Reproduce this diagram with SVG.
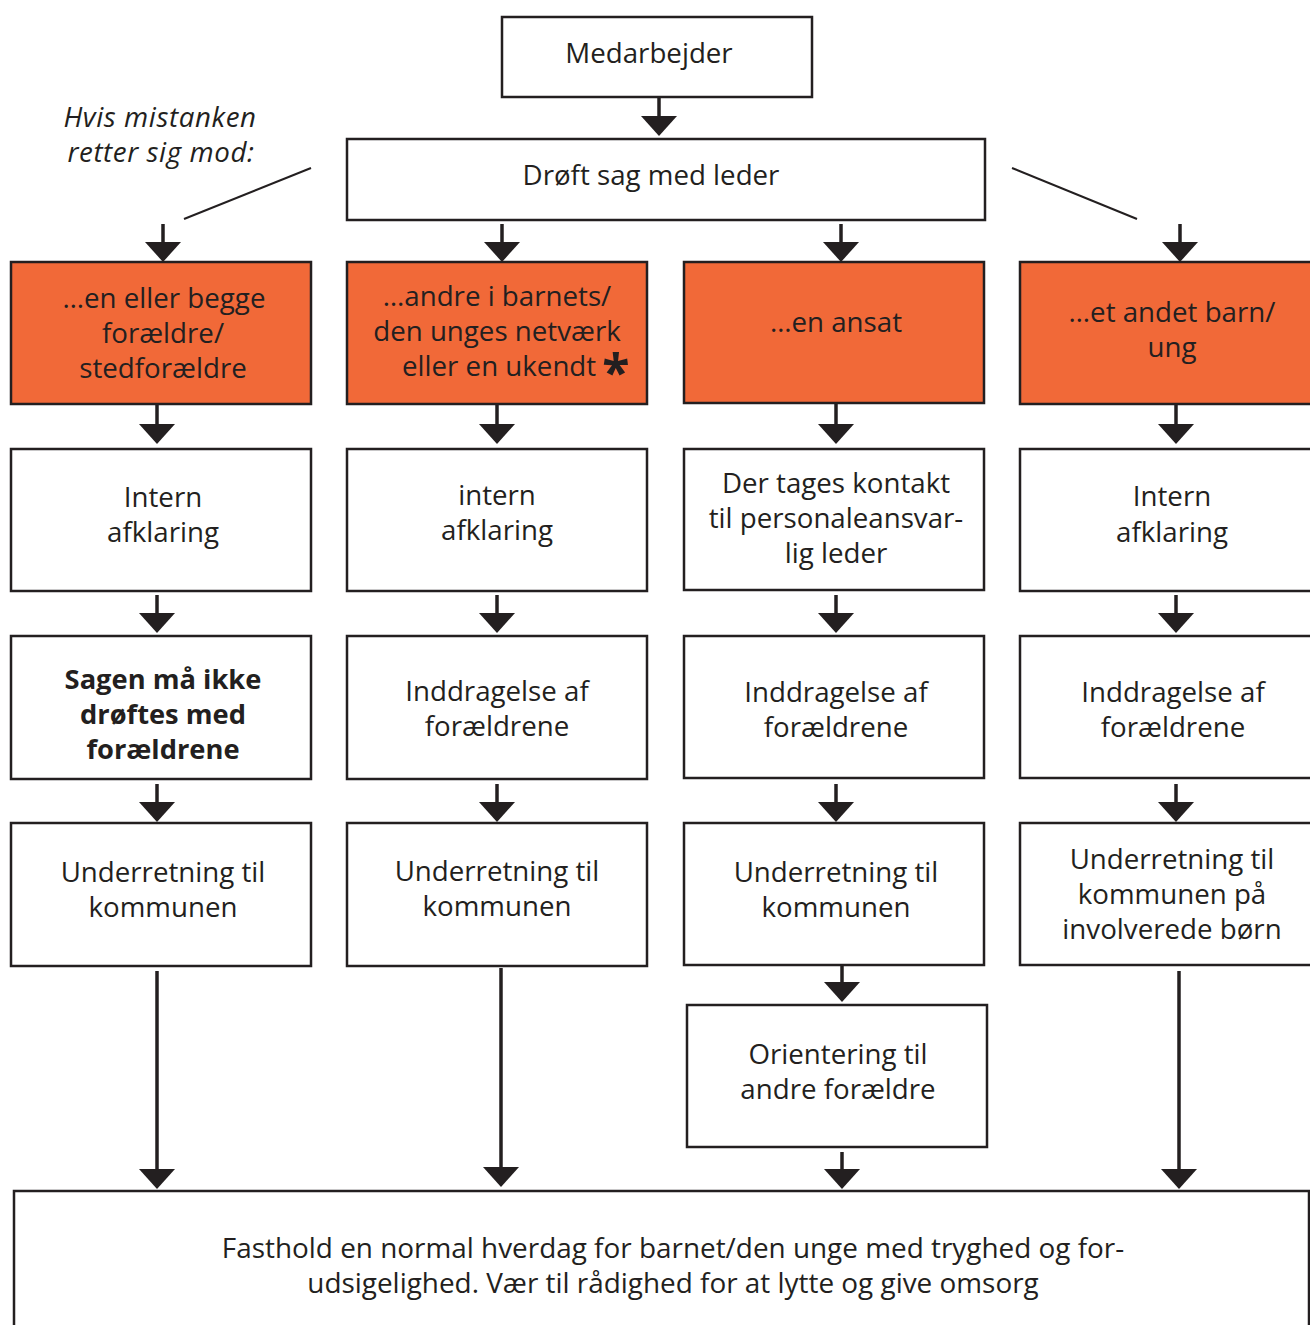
<svg xmlns="http://www.w3.org/2000/svg" width="1310" height="1325" viewBox="0 0 1310 1325">
<style>
  .box { fill: #ffffff; stroke: #231f20; stroke-width: 2.5; }
  .hot { fill: #f16938; stroke: #231f20; stroke-width: 2.5; }
  .t { font-family: "Open Sans", "Noto Sans", sans-serif; font-size: 27.7px; fill: #231f20; text-anchor: middle; }
  .b { font-weight: 700; font-size: 27.3px; }
  .i { font-style: italic; font-size: 27.7px; letter-spacing: 0.6px; }
  .big { font-size: 27.9px; }
  .st { text-anchor: start; }
  .ast { font-weight: 700; font-size: 50px; }
  .conn line { stroke: #231f20; stroke-width: 3.5; }
  .conn line.arr { marker-end: url(#ah); }
  .conn line.diag { stroke-width: 2; }
</style>
<defs>
  <marker id="ah" viewBox="0 0 20 36" refX="6" refY="18" markerWidth="20" markerHeight="36" markerUnits="userSpaceOnUse" orient="auto">
    <path d="M0,0 L20,18 L0,36 Z" fill="#231f20"/>
  </marker>
</defs>
<rect width="1310" height="1325" fill="#ffffff"/>

<g id="note">
  <text class="t i" x="160" y="127">Hvis mistanken</text>
  <text class="t i" x="161" y="162">retter sig mod:</text>
</g>

<g id="medarbejder">
  <rect class="box" x="502" y="17" width="310" height="80"/>
  <text class="t" x="649" y="63">Medarbejder</text>
</g>
<g id="droeft">
  <rect class="box" x="347" y="139" width="638" height="81"/>
  <text class="t" x="651" y="185">Drøft sag med leder</text>
</g>

<g id="o1">
  <rect class="hot" x="11" y="262" width="300" height="142"/>
  <text class="t" x="164" y="308">…en eller begge</text>
  <text class="t" x="163" y="343">forældre/</text>
  <text class="t" x="163" y="378">stedforældre</text>
</g>
<g id="o2">
  <rect class="hot" x="347" y="262" width="300" height="142"/>
  <text class="t" x="497" y="306">…andre i barnets/</text>
  <text class="t" x="497" y="341">den unges netværk</text>
  <text class="t st" x="402" y="376">eller en ukendt <tspan class="ast" dx="-1" dy="14">*</tspan></text>
</g>
<g id="o3">
  <rect class="hot" x="684" y="262" width="300" height="141"/>
  <text class="t" x="836" y="332">…en ansat</text>
</g>
<g id="o4">
  <rect class="hot" x="1020" y="262" width="300" height="142"/>
  <text class="t" x="1172" y="322">…et andet barn/</text>
  <text class="t" x="1172" y="357">ung</text>
</g>

<g id="r2c1">
  <rect class="box" x="11" y="449" width="300" height="142"/>
  <text class="t" x="163" y="507">Intern</text>
  <text class="t" x="163" y="542">afklaring</text>
</g>
<g id="r2c2">
  <rect class="box" x="347" y="449" width="300" height="142"/>
  <text class="t" x="497" y="505">intern</text>
  <text class="t" x="497" y="540">afklaring</text>
</g>
<g id="r2c3">
  <rect class="box" x="684" y="449" width="300" height="141"/>
  <text class="t" x="836" y="493">Der tages kontakt</text>
  <text class="t" x="836" y="528">til personaleansvar-</text>
  <text class="t" x="836" y="563">lig leder</text>
</g>
<g id="r2c4">
  <rect class="box" x="1020" y="449" width="300" height="142"/>
  <text class="t" x="1172" y="506">Intern</text>
  <text class="t" x="1172" y="542">afklaring</text>
</g>

<g id="r3c1">
  <rect class="box" x="11" y="636" width="300" height="143"/>
  <text class="t b" x="163" y="689">Sagen må ikke</text>
  <text class="t b" x="163" y="724">drøftes med</text>
  <text class="t b" x="163" y="759">forældrene</text>
</g>
<g id="r3c2">
  <rect class="box" x="347" y="636" width="300" height="143"/>
  <text class="t" x="497" y="701">Inddragelse af</text>
  <text class="t" x="497" y="736">forældrene</text>
</g>
<g id="r3c3">
  <rect class="box" x="684" y="636" width="300" height="142"/>
  <text class="t" x="836" y="702">Inddragelse af</text>
  <text class="t" x="836" y="737">forældrene</text>
</g>
<g id="r3c4">
  <rect class="box" x="1020" y="636" width="300" height="142"/>
  <text class="t" x="1173" y="702">Inddragelse af</text>
  <text class="t" x="1173" y="737">forældrene</text>
</g>

<g id="r4c1">
  <rect class="box" x="11" y="823" width="300" height="143"/>
  <text class="t" x="163" y="882">Underretning til</text>
  <text class="t" x="163" y="917">kommunen</text>
</g>
<g id="r4c2">
  <rect class="box" x="347" y="823" width="300" height="143"/>
  <text class="t" x="497" y="881">Underretning til</text>
  <text class="t" x="497" y="916">kommunen</text>
</g>
<g id="r4c3">
  <rect class="box" x="684" y="823" width="300" height="142"/>
  <text class="t" x="836" y="882">Underretning til</text>
  <text class="t" x="836" y="917">kommunen</text>
</g>
<g id="r4c4">
  <rect class="box" x="1020" y="823" width="300" height="142"/>
  <text class="t" x="1172" y="869">Underretning til</text>
  <text class="t" x="1172" y="904">kommunen på</text>
  <text class="t" x="1172" y="939">involverede børn</text>
</g>

<g id="orientering">
  <rect class="box" x="687" y="1005" width="300" height="142"/>
  <text class="t" x="838" y="1064">Orientering til</text>
  <text class="t" x="838" y="1099">andre forældre</text>
</g>

<g id="bottom">
  <rect class="box" x="14" y="1191" width="1295" height="160"/>
  <text class="t big" x="673" y="1258">Fasthold en normal hverdag for barnet/den unge med tryghed og for-</text>
  <text class="t big" x="673" y="1293">udsigelighed. Vær til rådighed for at lytte og give omsorg</text>
</g>

<g id="connectors" class="conn">
  <line class="arr" x1="659" y1="97" x2="659" y2="122"/>
  <line class="diag" x1="311" y1="168" x2="184" y2="219"/>
  <line class="diag" x1="1012" y1="168" x2="1137" y2="219"/>

  <line class="arr" x1="163" y1="224" x2="163" y2="248"/>
  <line class="arr" x1="502" y1="224" x2="502" y2="248"/>
  <line class="arr" x1="841" y1="224" x2="841" y2="248"/>
  <line class="arr" x1="1180" y1="224" x2="1180" y2="248"/>

  <line class="arr" x1="157" y1="405" x2="157" y2="430"/>
  <line class="arr" x1="497" y1="405" x2="497" y2="430"/>
  <line class="arr" x1="836" y1="404" x2="836" y2="430"/>
  <line class="arr" x1="1176" y1="405" x2="1176" y2="430"/>

  <line class="arr" x1="157" y1="595" x2="157" y2="619"/>
  <line class="arr" x1="497" y1="595" x2="497" y2="619"/>
  <line class="arr" x1="836" y1="595" x2="836" y2="619"/>
  <line class="arr" x1="1176" y1="595" x2="1176" y2="619"/>

  <line class="arr" x1="157" y1="784" x2="157" y2="808"/>
  <line class="arr" x1="497" y1="784" x2="497" y2="808"/>
  <line class="arr" x1="836" y1="784" x2="836" y2="808"/>
  <line class="arr" x1="1176" y1="784" x2="1176" y2="808"/>

  <line class="arr" x1="842" y1="966" x2="842" y2="988"/>
  <line class="arr" x1="842" y1="1152" x2="842" y2="1175"/>

  <line class="arr" x1="157" y1="971" x2="157" y2="1175"/>
  <line class="arr" x1="501" y1="968" x2="501" y2="1173"/>
  <line class="arr" x1="1179" y1="971" x2="1179" y2="1175"/>
</g>
</svg>
